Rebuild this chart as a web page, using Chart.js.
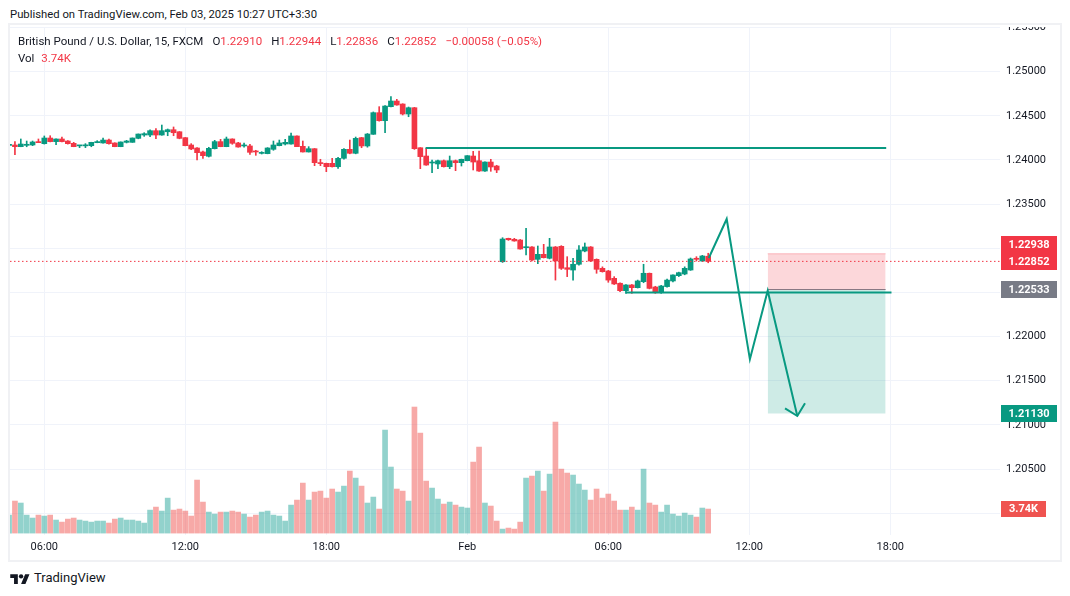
<!DOCTYPE html>
<html>
<head>
<meta charset="utf-8">
<script src="https://cdn.jsdelivr.net/npm/chart.js@4.4.1/dist/chart.umd.min.js"></script>
<style>
  html, body { margin: 0; padding: 0; background: #fff; }
  body { width: 1070px; height: 596px; position: relative; overflow: hidden;
         font-family: Roboto, "Liberation Sans", sans-serif; color: #131722; }
  #pub { position: absolute; left: 10px; top: 7px; font-size: 11.3px; line-height: 16px; }
  #frame { position: absolute; left: 8px; top: 23px; width: 1054px; height: 539px;
           border: 2px solid #f0f1f4; box-sizing: border-box; }
  #wrap { position: absolute; left: 0; top: 27px; width: 1061px; height: 534px; }
  #legend { position: absolute; left: 18px; top: 33px; font-size: 11.5px; line-height: 17px; z-index: 2; }
  #legend .r { color: #f23645; }
  #legend .sp { margin-left: 9px; }
  #foot { position: absolute; left: 10px; top: 570px; font-size: 13px; line-height: 16px; display: flex; align-items: center; }
  #foot svg { margin-right: 4px; }
</style>
</head>
<body>
<div id="pub">Published on TradingView.com, Feb 03, 2025 10:27 UTC+3:30</div>
<div id="frame"></div>
<div id="wrap"><canvas id="fx"></canvas></div>
<div id="legend">
  <div>British Pound / U.S. Dollar, 15, FXCM<span class="sp">O</span><span class="r">1.22910</span><span class="sp">H</span><span class="r">1.22944</span><span class="sp">L</span><span class="r">1.22836</span><span class="sp">C</span><span class="r">1.22852</span><span class="sp r">−0.00058 (−0.05%)</span></div>
  <div>Vol <span class="r" style="margin-left:4px">3.74K</span></div>
</div>
<div id="foot">
  <svg width="20" height="13" viewBox="0 0 36 24"><path d="M14 22H7V11H0V4h14v18zM28 22h-8l7.5-18h8L28 22z" fill="#131722"/><circle cx="20" cy="8" r="4" fill="#131722"/></svg>
  <span>TradingView</span>
</div>
<script>
// ── 資料 ──────────────────────────────────────────────
// x = bar index (15m), 0 = Jan 31 04:30
const tickIdx  = [6, 30, 54, 78, 102, 126, 150];
const tickText = ['06:00', '12:00', '18:00', 'Feb', '06:00', '12:00', '18:00'];
const priceTicks = [1.200, 1.205, 1.210, 1.215, 1.220, 1.225, 1.230, 1.235, 1.240, 1.245, 1.250, 1.255];

const opens = [
  1.24165,1.24170,1.24151,1.24166,1.24170,1.24208,1.24185,1.24249,1.24208,1.24238,
  1.24215,1.24189,1.24160,1.24160,1.24162,1.24196,1.24193,1.24226,1.24193,1.24151,
  1.24200,1.24200,1.24245,1.24283,1.24283,1.24332,1.24283,1.24320,1.24343,1.24320,
  1.24253,1.24170,1.24136,1.24091,1.24042,1.24128,1.24208,1.24151,1.24238,1.24193,
  1.24159,1.24159,1.24098,1.24075,1.24072,1.24121,1.24162,1.24181,1.24181,1.24272,
  1.24155,1.24091,1.24128,1.23966,1.23962,1.23962,1.23924,1.24019,1.24121,1.24076,
  1.24253,1.24159,1.24291,1.24536,1.24445,1.24604,1.24668,1.24634,1.24521,1.24592,
  1.24139,1.24045,1.23966,1.23955,1.23992,1.23924,1.23992,1.23970,1.23992,1.24045,
  1.23992,1.23875,1.23977,1.23932,1.22848,1.23113,1.23102,1.23094,1.23007,1.23015,
  1.22875,1.22932,1.22887,1.23015,1.23022,1.22780,1.22754,1.22819,1.22969,1.23015,
  1.22875,1.22773,1.22743,1.22660,1.22604,1.22520,1.22585,1.22554,1.22622,1.22717,
  1.22562,1.22497,1.22566,1.22630,1.22690,1.22709,1.22754,1.22887,1.22856,1.22910
];
const highs = [
  1.24172,1.24208,1.24238,1.24215,1.24215,1.24238,1.24272,1.24275,1.24240,1.24260,
  1.24220,1.24200,1.24166,1.24185,1.24201,1.24219,1.24249,1.24238,1.24195,1.24205,
  1.24223,1.24250,1.24295,1.24309,1.24343,1.24355,1.24396,1.24351,1.24374,1.24322,
  1.24255,1.24185,1.24140,1.24102,1.24144,1.24223,1.24234,1.24260,1.24240,1.24200,
  1.24193,1.24178,1.24110,1.24094,1.24140,1.24215,1.24226,1.24234,1.24306,1.24275,
  1.24215,1.24151,1.24130,1.24008,1.23965,1.24019,1.24030,1.24130,1.24226,1.24260,
  1.24256,1.24300,1.24544,1.24604,1.24615,1.24717,1.24687,1.24637,1.24600,1.24596,
  1.24140,1.24132,1.24000,1.24000,1.24000,1.24045,1.24000,1.24010,1.24050,1.24098,
  1.24102,1.23980,1.24008,1.23940,1.23120,1.23115,1.23113,1.23100,1.23226,1.23020,
  1.23026,1.23045,1.23113,1.23020,1.23030,1.22905,1.22887,1.23030,1.23060,1.23020,
  1.22880,1.22790,1.22750,1.22679,1.22610,1.22590,1.22590,1.22640,1.22819,1.22720,
  1.22570,1.22580,1.22650,1.22700,1.22730,1.22790,1.22890,1.22905,1.22920,1.22944
];
const lows = [
  1.24160,1.24060,1.24150,1.24150,1.24162,1.24196,1.24180,1.24205,1.24174,1.24205,
  1.24180,1.24150,1.24140,1.24140,1.24150,1.24195,1.24190,1.24180,1.24150,1.24150,
  1.24193,1.24200,1.24240,1.24268,1.24264,1.24241,1.24280,1.24275,1.24275,1.24240,
  1.24160,1.24117,1.24000,1.24019,1.24034,1.24125,1.24150,1.24150,1.24178,1.24145,
  1.24144,1.24064,1.24053,1.24068,1.24070,1.24110,1.24160,1.24170,1.24180,1.24150,
  1.24090,1.24090,1.23936,1.23936,1.23868,1.23920,1.23906,1.24010,1.24070,1.24070,
  1.24139,1.24145,1.24290,1.24440,1.24310,1.24600,1.24620,1.24510,1.24490,1.24120,
  1.23902,1.23940,1.23857,1.23902,1.23920,1.23902,1.23879,1.23932,1.23990,1.23887,
  1.23870,1.23870,1.23872,1.23857,1.22840,1.23090,1.23080,1.22990,1.22924,1.22856,
  1.22826,1.22890,1.22880,1.22640,1.22760,1.22679,1.22640,1.22810,1.22960,1.22850,
  1.22717,1.22730,1.22615,1.22590,1.22510,1.22490,1.22490,1.22550,1.22610,1.22540,
  1.22490,1.22490,1.22560,1.22620,1.22680,1.22700,1.22750,1.22856,1.22850,1.22836
];
const closes = [
  1.24168,1.24151,1.24181,1.24178,1.24204,1.24196,1.24249,1.24208,1.24238,1.24208,
  1.24185,1.24151,1.24162,1.24163,1.24200,1.24208,1.24226,1.24185,1.24151,1.24204,
  1.24215,1.24249,1.24294,1.24298,1.24332,1.24283,1.24332,1.24343,1.24309,1.24245,
  1.24162,1.24125,1.24083,1.24049,1.24132,1.24208,1.24151,1.24238,1.24189,1.24147,
  1.24166,1.24087,1.24091,1.24083,1.24136,1.24170,1.24193,1.24200,1.24272,1.24151,
  1.24091,1.24128,1.23970,1.23959,1.23924,1.23924,1.24019,1.24121,1.24076,1.24245,
  1.24159,1.24294,1.24536,1.24445,1.24611,1.24668,1.24623,1.24521,1.24592,1.24128,
  1.24038,1.23943,1.23977,1.23992,1.23924,1.23992,1.23970,1.24008,1.24049,1.23977,
  1.23875,1.23977,1.23921,1.23887,1.23105,1.23097,1.23083,1.22992,1.23015,1.22867,
  1.22932,1.22894,1.23015,1.22856,1.22773,1.22762,1.22819,1.22981,1.23015,1.22856,
  1.22762,1.22735,1.22640,1.22596,1.22520,1.22585,1.22554,1.22630,1.22717,1.22546,
  1.22497,1.22573,1.22640,1.22698,1.22724,1.22773,1.22879,1.22875,1.22913,1.22852
];
// 成交量（K）
const volumes = [
  2.80,4.99,4.68,2.80,2.34,2.80,2.65,2.80,2.03,1.71,
  2.18,2.34,2.03,1.87,1.71,1.87,1.87,1.56,2.18,2.34,
  2.03,2.03,1.87,1.56,3.58,4.05,3.43,5.45,3.58,3.74,
  3.43,2.65,8.26,4.83,3.27,2.96,3.27,3.27,3.43,3.27,
  2.96,2.49,2.80,3.27,3.43,2.80,2.65,1.87,4.36,5.14,
  7.79,5.14,6.39,6.54,5.45,6.86,6.39,7.32,9.66,8.57,
  7.32,4.68,5.61,3.74,16.05,10.29,6.86,6.54,4.99,19.64,
  15.58,8.10,7.01,5.30,4.52,4.83,4.36,4.05,3.90,11.06,
  13.40,4.68,4.21,1.87,0.62,0.78,0.62,1.71,8.57,8.88,
  9.66,6.54,9.19,17.30,9.97,9.35,9.04,7.64,6.70,5.14,
  6.86,5.45,6.08,4.99,3.58,3.58,4.05,3.58,9.97,4.68,
  4.36,3.27,4.36,2.96,2.65,3.12,2.80,2.49,3.90,3.74
];

// 圖上畫線：[bar index, price]
const resistance = [[70.9, 1.24136], [149.3, 1.24136]];
const support    = [[105.0, 1.22500], [150.2, 1.22500]];
const swingPath  = [[119.1, 1.22890], [122.15, 1.23332], [126.1, 1.21743], [129.13, 1.22520], [134.17, 1.21101]];
const arrowHead  = [[132.08, 1.21188], [134.17, 1.21101], [135.48, 1.21245]];
const positionSpan = [129.13, 149.2];
const stopPrice = 1.22938, entryPrice = 1.22533, targetPrice = 1.21130, lastPrice = 1.22852;
const lastVol = 3.74;

// ── 樣式 ──────────────────────────────────────────────
const UP = '#089981', DN = '#f23645';
const VOL_UP = 'rgba(38,166,154,0.5)', VOL_DN = 'rgba(239,83,80,0.5)';
const GRID = '#f0f3fa';
const FONT = 'Roboto, "Liberation Sans", sans-serif';
const xMin = 0.16, xMax = 168.67;
const yMin = 1.197531, yMax = 1.255062;

const isUp = i => closes[i] >= opens[i];
const pts = arr => arr.map(([x, y]) => ({ x, y }));
const flat = (p) => [{ x: xMin, y: p }, { x: xMax, y: p }];
const span = (p) => [{ x: positionSpan[0], y: p }, { x: positionSpan[1], y: p }];

// 右側價格標籤
const axisTags = [
  { v: lastPrice,   text: '1.22852', bg: DN },
  { v: stopPrice,   text: '1.22938', bg: DN },
  { v: entryPrice,  text: '1.22533', bg: '#787b86' },
  { v: targetPrice, text: '1.21130', bg: UP },
];

const tagPlugin = {
  id: 'tags',
  afterDraw(chart) {
    const { ctx, chartArea, scales } = chart;
    const x0 = chartArea.right + 1;
    ctx.save();
    ctx.font = 'bold 11px ' + FONT;
    ctx.textAlign = 'center';
    ctx.textBaseline = 'middle';
    const placed = [];
    for (const t of axisTags) {
      let py = scales.y.getPixelForValue(t.v);
      for (const p of placed) {
        if (Math.abs(py - p) < 17) py = py < p ? p - 17 : p + 17;
      }
      placed.push(py);
      ctx.fillStyle = t.bg;
      ctx.fillRect(x0, Math.round(py - 8.5), 56, 17);
      ctx.fillStyle = '#fff';
      ctx.fillText(t.text, x0 + 28, py + 0.5);
    }
    // 成交量標籤
    const vy = scales.yv.getPixelForValue(lastVol);
    ctx.fillStyle = '#ef5350';
    ctx.fillRect(x0, Math.round(vy - 8), 45, 16);
    ctx.fillStyle = '#fff';
    ctx.fillText('3.74K', x0 + 22.5, vy + 0.5);
    ctx.restore();
  }
};

const line = (data, extra) => Object.assign({
  type: 'line', data, borderColor: UP, borderWidth: 2, pointRadius: 0,
  fill: false, tension: 0, yAxisID: 'y', order: 0
}, extra);

new Chart(document.getElementById('fx'), {
  type: 'bar',
  data: {
    datasets: [
      // 空單部位：停損區 / 目標區
      line(span(stopPrice),   { borderColor: 'rgba(242,54,69,0.3)', borderWidth: 1, fill: '+1', backgroundColor: 'rgba(242,54,69,0.2)', order: 6 }),
      line(span(entryPrice),  { borderColor: '#787b86', borderWidth: 1, fill: '+1', backgroundColor: 'rgba(8,153,129,0.2)', order: 6 }),
      line(span(targetPrice), { borderColor: 'rgba(0,0,0,0)', borderWidth: 0, order: 6 }),
      {
        label: 'vol', yAxisID: 'yv', order: 5, grouped: false, barThickness: 5,
        data: volumes.map((v, i) => ({ x: i, y: v })),
        backgroundColor: volumes.map((_, i) => isUp(i) ? VOL_UP : VOL_DN)
      },
      {
        label: 'wick', yAxisID: 'y', order: 4, grouped: false, barThickness: 1, minBarLength: 1,
        data: opens.map((_, i) => ({ x: i, y: [lows[i], highs[i]] })),
        backgroundColor: opens.map((_, i) => isUp(i) ? UP : DN)
      },
      {
        label: 'body', yAxisID: 'y', order: 3, grouped: false, barThickness: 5, minBarLength: 1,
        data: opens.map((o, i) => ({ x: i, y: [Math.min(o, closes[i]), Math.max(o, closes[i])] })),
        backgroundColor: opens.map((_, i) => isUp(i) ? UP : DN)
      },
      line(flat(lastPrice), { borderColor: DN, borderWidth: 1, borderDash: [1.5, 2.5], order: 2 }),
      line(pts(resistance)),
      line(pts(support)),
      line(pts(swingPath)),
      line(pts(arrowHead)),
    ]
  },
  options: {
    responsive: true,
    maintainAspectRatio: false,
    animation: false,
    layout: { padding: { left: 10, top: 0, right: 0, bottom: 0 } },
    plugins: { legend: { display: false }, tooltip: { enabled: false } },
    scales: {
      x: {
        type: 'linear', min: xMin, max: xMax, offset: false,
        grid: { color: GRID, drawTicks: false, offset: false },
        border: { display: false },
        afterBuildTicks: s => { s.ticks = tickIdx.map(v => ({ value: v })); },
        afterFit: s => { s.height = 26; s.paddingLeft = 0; s.paddingRight = 0; },
        ticks: {
          autoSkip: false, maxRotation: 0, padding: 6, color: '#131722',
          font: { size: 11, family: FONT },
          callback: v => tickText[tickIdx.indexOf(v)] ?? ''
        }
      },
      y: {
        position: 'right', min: yMin, max: yMax,
        grid: { color: GRID, drawTicks: false },
        border: { display: false },
        afterBuildTicks: s => { s.ticks = priceTicks.map(v => ({ value: v })); },
        afterFit: s => { s.width = 61; s.paddingTop = 0; s.paddingBottom = 0; },
        ticks: {
          padding: 6, color: '#131722', font: { size: 11, family: FONT },
          callback: v => v.toFixed(5)
        }
      },
      yv: { display: false, min: -0.3, max: 78.86 }
    }
  },
  plugins: [tagPlugin]
});
</script>
</body>
</html>
